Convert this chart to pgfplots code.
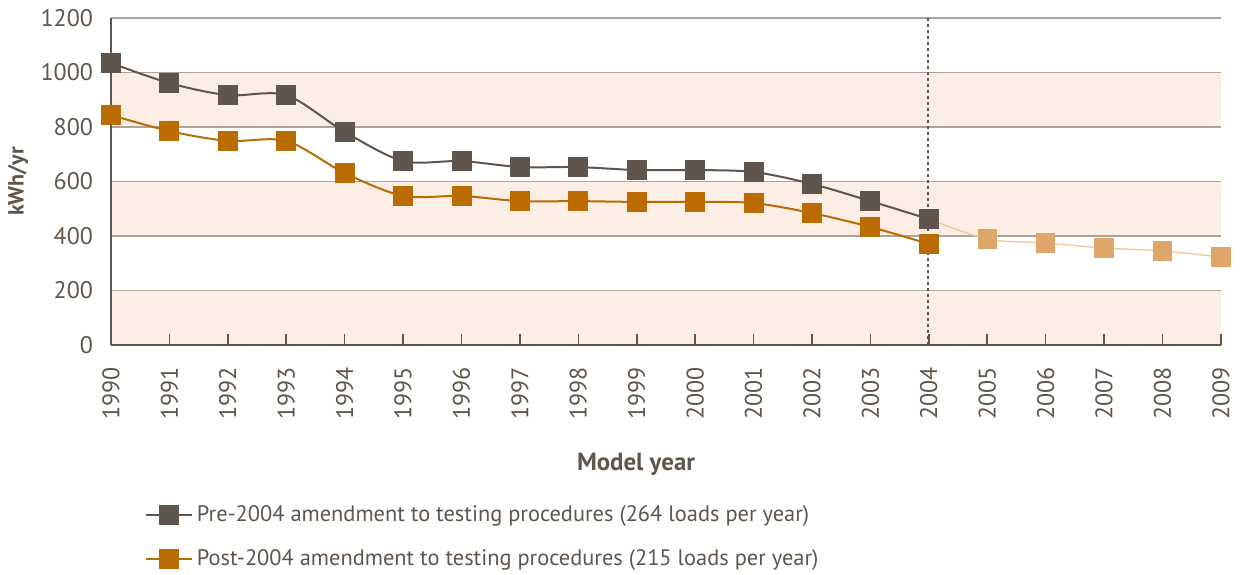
\documentclass[border=0pt]{standalone}
\usepackage{pgfplots}
\pgfplotsset{compat=1.18}
\usepackage{fontspec}
\setmainfont{PT Sans}
\definecolor{txt}{HTML}{5F554C}
\definecolor{pre}{HTML}{5F554C}
\definecolor{post}{HTML}{BA6C00}
\definecolor{proj}{HTML}{DFA66A}
\definecolor{projline}{HTML}{F2C9A0}
\definecolor{band}{HTML}{FCEEE5}
\definecolor{gridc}{HTML}{ABA39E}
\begin{document}
\begin{tikzpicture}
\begin{axis}[
  name=ax,
  set layers=standard,
  scale only axis,
  width=555pt, height=163.5pt,
  xmin=1990, xmax=2009, ymin=0, ymax=1200,
  clip=false,
  axis lines*=left,
  axis line style={draw=txt, line width=1pt},
  xtick={1990,...,2009},
  ytick={0,200,...,1200},
  ymajorgrids,
  grid style={draw=gridc, line width=0.8pt},
  tick align=inside,
  major tick length=5.5pt,
  xtick style={draw=txt, line width=0.8pt},
  ytick style={draw=none},
  /pgf/number format/assume math mode=true,
  /pgf/number format/1000 sep={},
  ticklabel style={font=\fontsize{12}{14}\selectfont, text=txt},
  xticklabel style={rotate=90, anchor=east},
  xticklabel shift=7.5pt,
  yticklabel style={xshift=-5.5pt},
  xlabel={\textbf{Model year}},
  xlabel style={font=\fontsize{12.4}{14}\selectfont, text=txt, at={(axis description cs:0.473,0)}, anchor=center, yshift=-59.5pt},
  ylabel={\textbf{kWh/yr}},
  ylabel style={font=\fontsize{11}{13}\selectfont, text=txt, at={(axis description cs:-0.0838,0.5)}, anchor=center},
  legend style={at={(axis description cs:0,0)}, anchor=north west, xshift=14pt, yshift=-76pt,
    draw=none, fill=none, font=\fontsize{11.2}{13}\selectfont, text=txt, row sep=8.5pt,
    cells={anchor=west}},
  legend image code/.code={\draw[mark repeat=2,mark phase=2,#1] plot coordinates {(0cm,0cm) (0.4cm,0cm) (0.8cm,0cm)};},
]
\pgfonlayer{axis background}
\fill[band] (axis cs:1990,0) rectangle (axis cs:2009,200);
\fill[band] (axis cs:1990,400) rectangle (axis cs:2009,600);
\fill[band] (axis cs:1990,800) rectangle (axis cs:2009,1000);
\endpgfonlayer
\addplot[forget plot, draw=txt, line width=0.8pt, dash pattern=on 1.5pt off 1.5pt] coordinates {(2003.98,0) (2003.98,1200)};
% projection
\addplot[forget plot, smooth, draw=projline, line width=0.7pt, mark=square*, mark options={draw=proj, fill=proj}, mark size=4.5pt, mark indices={2,3,4,5,6}] coordinates {
(2004,462) (2005,389) (2006,374) (2007,356) (2008,345) (2009,323)};
\addplot[smooth, draw=pre, line width=1pt, mark=square*, mark options={draw=pre, fill=pre}, mark size=4.5pt] coordinates {
(1990,1035) (1991,961) (1992,917) (1993,917) (1994,782) (1995,675) (1996,675) (1997,653) (1998,653) (1999,642) (2000,642) (2001,635) (2002,591) (2003,528) (2004,462)};
\addlegendentry{Pre-2004 amendment to testing procedures (264 loads per year)}
\addplot[smooth, draw=post, line width=1pt, mark=square*, mark options={draw=post, fill=post}, mark size=4.5pt] coordinates {
(1990,844) (1991,785) (1992,749) (1993,749) (1994,631) (1995,547) (1996,547) (1997,528) (1998,528) (1999,525) (2000,525) (2001,521) (2002,484) (2003,433) (2004,371)};
\addlegendentry{Post-2004 amendment to testing procedures (215 loads per year)}
\end{axis}
\pgfresetboundingbox
\path[use as bounding box] ([shift={(-55.5pt,-114.5pt)}]ax.south west) rectangle ([shift={(10pt,9pt)}]ax.north east);
\end{tikzpicture}
\end{document}
